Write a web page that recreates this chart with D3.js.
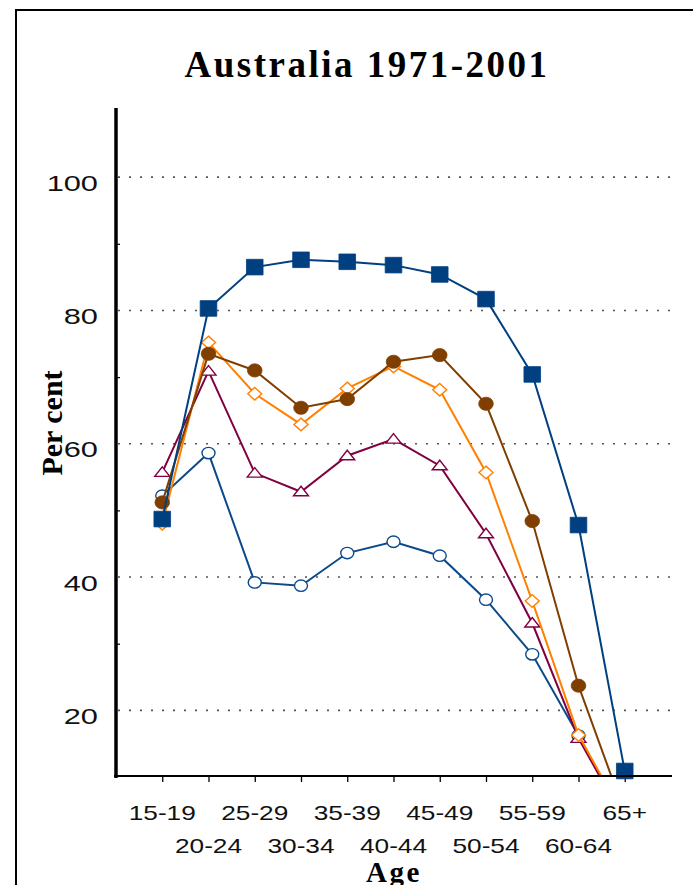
<!DOCTYPE html>
<html><head><meta charset="utf-8">
<script src="https://cdn.jsdelivr.net/npm/d3@7/dist/d3.min.js"></script>
<style>body{margin:0;background:#fff}svg{display:block}</style>
</head><body><svg id="c" width="693" height="885"></svg>
<script>
const ages = ["15-19","20-24","25-29","30-34","35-39","40-44","45-49","50-54","55-59","60-64","65+"];
const yTicks = [20,40,60,80,100];
const minorTicks = [30,50,70,90];
const circleValues   = [52.2,58.6,39.2,38.7,43.6,45.3,43.2,36.6,28.4,16.2,3.5];
const triangleValues = [55.7,70.9,55.6,52.8,58.2,60.7,56.7,46.5,33.1,15.8,3.4];
const diamondValues  = [48.0,75.2,67.5,62.9,68.3,71.6,68.1,55.7,36.4,16.3,3.8];
const dotValues      = [51.2,73.5,71.0,65.4,66.7,72.3,73.3,66.0,48.4,23.7,4.6];
const squareValues   = [48.7,80.3,86.5,87.6,87.3,86.8,85.4,81.7,70.4,47.8,10.9];
const titleText = "Australia 1971-2001";
const yTitle = "Per cent";
const xTitle = "Age";

const svg = d3.select("#c");
const x = d3.scalePoint().domain(ages).range([116, 671]).padding(1);
const y = d3.scaleLinear().domain([10, 110]).range([777, 110.5]);

// frame
svg.append("rect").attr("x",16).attr("y",10).attr("width",720).attr("height",900)
  .attr("fill","none").attr("stroke","#000").attr("stroke-width",2);

// title
svg.append("text").attr("x",367).attr("y",77).attr("text-anchor","middle")
  .style("font-family","'Liberation Serif',serif").style("font-weight","bold")
  .style("font-size","37px").style("letter-spacing","2.5px").text(titleText);

// grid
svg.append("g").selectAll("line").data(yTicks).join("line")
  .attr("x1",118).attr("x2",672).attr("y1",d=>y(d)).attr("y2",d=>y(d))
  .attr("stroke","#555").attr("stroke-width",1.6).attr("stroke-dasharray","2 9");

// y minor ticks
svg.append("g").attr("transform","translate(116,0)")
  .call(d3.axisRight(y).tickValues(minorTicks).tickSize(4).tickFormat(""))
  .call(g=>g.select(".domain").remove())
  .selectAll("line").attr("stroke","#000").attr("stroke-width",1.2);

// y labels
svg.append("g").selectAll("text").data(yTicks).join("text")
  .attr("transform",d=>`translate(98,${y(d)+13.5}) scale(1.4,1)`)
  .attr("text-anchor","end")
  .style("font-family","'Liberation Sans',Arial,sans-serif").style("font-size","22px")
  .attr("fill","#111").text(d=>d);

// x axis ticks
svg.append("g").attr("transform",`translate(0,${y(10)-1})`)
  .call(d3.axisBottom(x).tickSize(6).tickSizeOuter(0).tickFormat(""))
  .call(g=>g.select(".domain").remove())
  .selectAll("line").attr("stroke","#000").attr("stroke-width",1.3);

// x labels
svg.append("g").selectAll("text").data(ages).join("text")
  .attr("transform",(d,i)=>`translate(${x(d)},${i%2===0?820:853}) scale(1.25,1)`)
  .attr("text-anchor","middle")
  .style("font-family","'Liberation Sans',Arial,sans-serif").style("font-size","21px")
  .attr("fill","#111").text(d=>d);

// axis titles
svg.append("text").attr("transform","translate(62,423) rotate(-90)").attr("text-anchor","middle")
  .style("font-family","'Liberation Serif',serif").style("font-weight","bold")
  .style("font-size","30px").text(yTitle);
svg.append("text").attr("x",394).attr("y",882).attr("text-anchor","middle")
  .style("font-family","'Liberation Serif',serif").style("font-weight","bold")
  .style("font-size","29px").style("letter-spacing","2.5px").text(xTitle);

// clip
svg.append("clipPath").attr("id","plot").append("rect")
  .attr("x",116).attr("y",100).attr("width",560).attr("height",y(10)-100);

const line = d3.line().x((d,i)=>x(ages[i])).y(d=>y(d));

const series = [
  {values:circleValues,   color:"#0b4a8a", shape:"circle"},
  {values:triangleValues, color:"#800040", shape:"triangle"},
  {values:diamondValues,  color:"#ff8000", shape:"diamond"},
  {values:dotValues,      color:"#7f3f00", shape:"dot"},
  {values:squareValues,   color:"#003f80", shape:"square"}
];

const shapes = {
  circle:   "M-6.5,0a6.5,5.7 0 1,0 13,0a6.5,5.7 0 1,0 -13,0Z",
  dot:      "M-7.3,0a7.3,6.6 0 1,0 14.6,0a7.3,6.6 0 1,0 -14.6,0Z",
  diamond:  "M0,-6.3L7,0L0,6.3L-7,0Z",
  triangle: "M0,-5.5L7.5,4L-7.5,4Z",
  square:   "M-8.3,-7.8h16.6v15.6h-16.6Z"
};

series.forEach(s=>{
  svg.append("path").attr("clip-path","url(#plot)")
    .attr("d",line(s.values)).attr("fill","none")
    .attr("stroke",s.color).attr("stroke-width",2);
  const filled = s.shape==="dot"||s.shape==="square";
  svg.append("g").selectAll("path")
    .data(s.values.map((v,i)=>({v,a:ages[i]})).filter(d=>d.v>=10))
    .join("path")
    .attr("transform",d=>`translate(${x(d.a)},${y(d.v)})`)
    .attr("d",shapes[s.shape])
    .attr("fill",filled?s.color:"#fff")
    .attr("stroke",s.color).attr("stroke-width",filled?0.8:1.4);
});

// axes lines
svg.append("line").attr("x1",116).attr("x2",116).attr("y1",108).attr("y2",y(10)+1)
  .attr("stroke","#000").attr("stroke-width",3.5);
svg.append("line").attr("x1",114).attr("x2",672).attr("y1",y(10)-1).attr("y2",y(10)-1)
  .attr("stroke","#000").attr("stroke-width",2);
</script></body></html>
